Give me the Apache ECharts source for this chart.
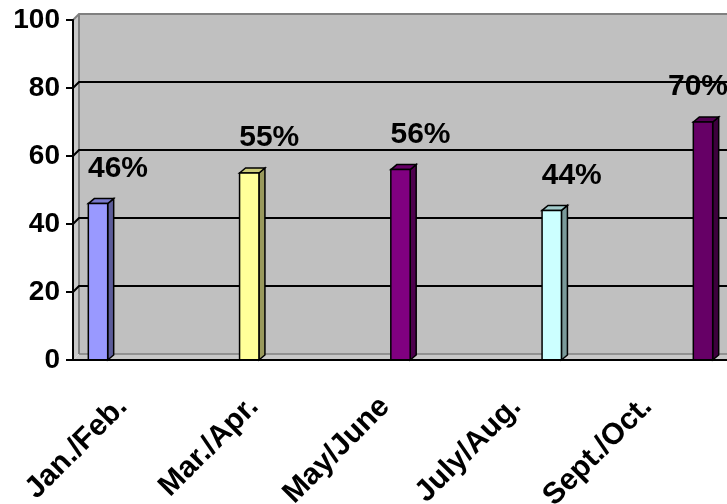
<!DOCTYPE html>
<html>
<head>
<meta charset="utf-8">
<script src="https://cdn.jsdelivr.net/npm/echarts@6/dist/echarts.min.js"></script>
<style>
  html, body { margin: 0; padding: 0; background: #ffffff; }
  #chart { width: 727px; height: 504px; }
</style>
</head>
<body>
<div id="chart"></div>
<script>
// Bimonthly percentages
const categories = ['Jan./Feb.', 'Mar./Apr.', 'May/June', 'July/Aug.', 'Sept./Oct.'];
const values = [46, 55, 56, 44, 70];
const barColors = ['#9999FF', '#FFFF99', '#800080', '#CCFFFF', '#660066'];
const yTicks = [0, 20, 40, 60, 80, 100];

const FONT = 'Arial, "Liberation Sans", sans-serif';
const WALL_DEPTH = [6, -6];
const BAR_DEPTH = [6, -5];
const CHART_WIDTH = 727;

function shade(hex, f) {
  const n = parseInt(hex.slice(1), 16);
  const r = Math.round(((n >> 16) & 255) * f);
  const g = Math.round(((n >> 8) & 255) * f);
  const b = Math.round((n & 255) * f);
  return 'rgb(' + r + ',' + g + ',' + b + ')';
}

// Back wall, side wall, floor and the gridlines drawn on the back wall
function renderWalls(params, api) {
  const cs = params.coordSys;
  const x0 = cs.x, y0 = cs.y, w = cs.width, h = cs.height;
  const dx = WALL_DEPTH[0], dy = WALL_DEPTH[1];
  const right = x0 + w + dx + 20;
  const children = [
    { type: 'rect', shape: { x: x0 + dx, y: y0 + dy, width: right - x0 - dx, height: h },
      style: { fill: '#C0C0C0' } },
    { type: 'polygon', shape: { points: [[x0, y0], [x0 + dx, y0 + dy], [x0 + dx, y0 + h + dy], [x0, y0 + h]] },
      style: { fill: '#C8C8C8' } },
    { type: 'polygon', shape: { points: [[x0, y0 + h], [x0 + dx, y0 + h + dy], [right, y0 + h + dy], [right, y0 + h]] },
      style: { fill: '#C8C8C8' } },
    { type: 'polyline', shape: { points: [[x0, y0], [x0 + dx, y0 + dy], [right, y0 + dy]] },
      style: { stroke: '#808080', lineWidth: 2, fill: null } },
    { type: 'line', shape: { x1: x0 + dx, y1: y0 + dy, x2: x0 + dx, y2: y0 + h + dy },
      style: { stroke: '#808080', lineWidth: 2 } },
    { type: 'line', shape: { x1: x0 + dx, y1: y0 + h + dy, x2: right, y2: y0 + h + dy },
      style: { stroke: '#808080', lineWidth: 1.5 } }
  ];
  yTicks.slice(1, -1).forEach(function (t) {
    const y = api.coord([0, t])[1];
    children.push({
      type: 'polyline',
      shape: { points: [[x0, y], [x0 + dx, y + dy], [right, y + dy]] },
      style: { stroke: '#000000', lineWidth: 2, fill: null }
    });
  });
  return { type: 'group', children: children };
}

// 3-D style columns with their percentage labels
function renderColumn(params, api) {
  const i = api.value(0);
  const v = api.value(1);
  const top = api.coord([i, v]);
  const base = api.coord([i, 0]);
  const bw = api.size([1, 0])[0] * 0.128;
  const x = top[0] - bw / 2;
  const dx = BAR_DEPTH[0], dy = BAR_DEPTH[1];
  const c = barColors[i];
  const line = { stroke: '#000000', lineWidth: 1.5, lineJoin: 'miter' };
  // label sits up and to the right of the column, kept inside the chart's right edge
  const labelX = Math.min(top[0] + 20, CHART_WIDTH - 29);
  return {
    type: 'group',
    children: [
      { type: 'polygon',
        shape: { points: [[x + bw, top[1]], [x + bw + dx, top[1] + dy], [x + bw + dx, base[1] + dy], [x + bw, base[1]]] },
        style: Object.assign({ fill: shade(c, 0.6) }, line) },
      { type: 'polygon',
        shape: { points: [[x, top[1]], [x + dx, top[1] + dy], [x + bw + dx, top[1] + dy], [x + bw, top[1]]] },
        style: Object.assign({ fill: shade(c, 0.8) }, line) },
      { type: 'rect',
        shape: { x: x, y: top[1], width: bw, height: base[1] - top[1] },
        style: Object.assign({ fill: c }, line) },
      { type: 'text',
        style: {
          x: labelX, y: top[1] - 35,
          text: v + '%',
          fill: '#000000',
          font: 'bold 30px ' + FONT,
          align: 'center', verticalAlign: 'middle'
        } }
    ]
  };
}

const chart = echarts.init(document.getElementById('chart'), null, { renderer: 'canvas' });

const option = {
  animation: false,
  backgroundColor: '#ffffff',
  grid: [
    { left: 73, top: 20, right: 0, height: 340, outerBoundsMode: 'none' },
    { left: 98, top: 20, width: 605, height: 340, outerBoundsMode: 'none' },
    { left: 57, top: 20, width: 656, height: 340, outerBoundsMode: 'none' }
  ],
  xAxis: [
    { gridIndex: 0, type: 'category', data: categories, z: 10,
      axisLine: { lineStyle: { color: '#000000', width: 2 } },
      axisTick: { length: 8, lineStyle: { color: '#000000', width: 2 } },
      axisLabel: { show: false }, splitLine: { show: false } },
    { gridIndex: 1, type: 'value', min: 0, max: categories.length - 1, show: false },
    { gridIndex: 2, type: 'category', data: categories, z: 10,
      axisLine: { show: false }, axisTick: { show: false }, splitLine: { show: false },
      axisLabel: { interval: 0, rotate: 45, margin: 42, fontSize: 30, fontWeight: 'bold',
                   fontFamily: FONT, color: '#000000' } }
  ],
  yAxis: [
    { gridIndex: 0, type: 'value', min: 0, max: 100, interval: 20, z: 10,
      axisLine: { show: true, lineStyle: { color: '#000000', width: 2 } },
      axisTick: { show: true, length: 7, lineStyle: { color: '#000000', width: 2 } },
      axisLabel: { margin: 13, fontSize: 28, fontWeight: 'bold', fontFamily: FONT, color: '#000000' },
      splitLine: { show: false } },
    { gridIndex: 1, type: 'value', min: 0, max: 100, show: false },
    { gridIndex: 2, type: 'value', min: 0, max: 100, show: false }
  ],
  series: [
    { type: 'custom', xAxisIndex: 0, yAxisIndex: 0, z: 1, silent: true,
      data: [[0, 0]], renderItem: renderWalls },
    { type: 'custom', xAxisIndex: 1, yAxisIndex: 1, z: 3, clip: false,
      data: values.map(function (v, i) { return [i, v]; }),
      encode: { x: 0, y: 1 },
      renderItem: renderColumn }
  ]
};

chart.setOption(option);
</script>
</body>
</html>
